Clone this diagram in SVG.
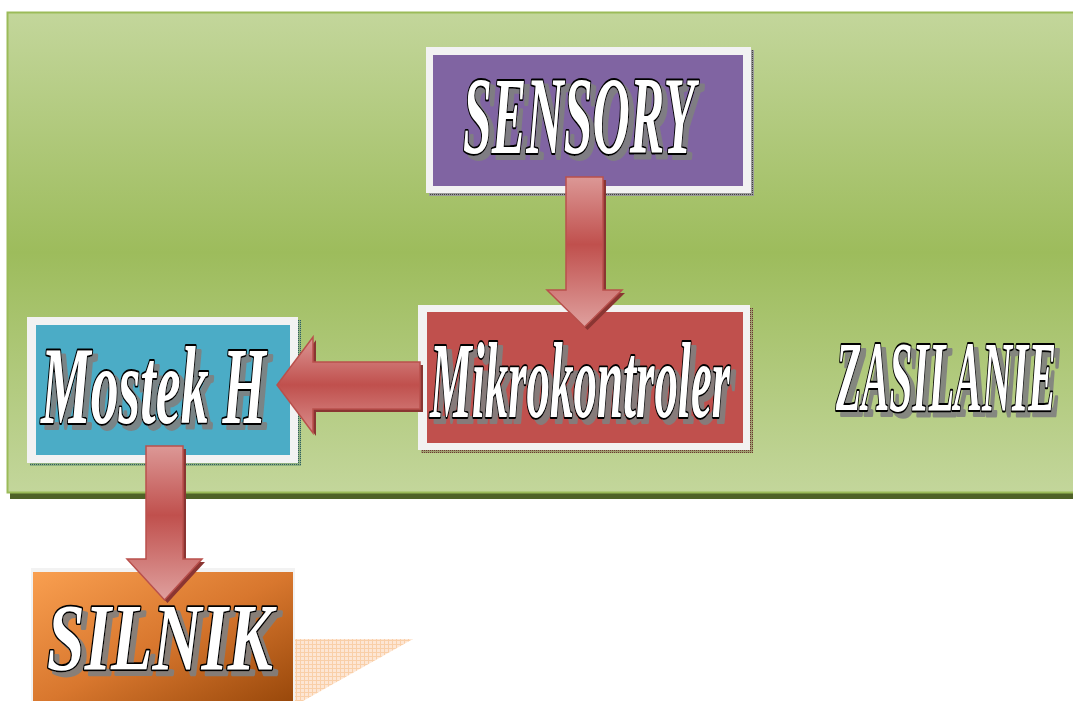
<svg xmlns="http://www.w3.org/2000/svg" width="1073" height="701" viewBox="0 0 1073 701">
  <defs>
    <style>
      .frame { fill: #f2f2f2; }
      .lbl { font-family: "Liberation Serif", "DejaVu Serif", serif; font-weight: bold; font-style: italic; fill: #ffffff; stroke: #000000; stroke-width: 3; paint-order: stroke; stroke-linejoin: round; vector-effect: non-scaling-stroke; }
      .shadowed { filter: url(#textShadow); }
      .arrow { stroke: #b9504c; stroke-width: 1.5; stroke-linejoin: miter; }
      .arrow-shadow { fill: #8a3532; }
    </style>
    <!-- grey drop shadow behind the outlined lettering -->
    <filter id="textShadow" x="-5%" y="-10%" width="115%" height="130%">
      <feFlood flood-color="#7f7f7f" flood-opacity="0.9" result="grey"/>
      <feComposite in="grey" in2="SourceAlpha" operator="in" result="shape"/>
      <feOffset in="shape" dx="5" dy="5" result="shadow"/>
      <feMerge>
        <feMergeNode in="shadow"/>
        <feMergeNode in="SourceGraphic"/>
      </feMerge>
    </filter>
    <linearGradient id="panelGrad" x1="0" y1="0" x2="0" y2="1">
      <stop offset="0" stop-color="#c3d69b"/>
      <stop offset="0.5" stop-color="#9dbc5c"/>
      <stop offset="1" stop-color="#c3d69b"/>
    </linearGradient>
    <linearGradient id="arrowV" x1="0" y1="0" x2="0" y2="1">
      <stop offset="0" stop-color="#dc9896"/>
      <stop offset="0.45" stop-color="#c0504d"/>
      <stop offset="1" stop-color="#dfa09e"/>
    </linearGradient>
    <linearGradient id="arrowH" x1="0" y1="0" x2="0" y2="1">
      <stop offset="0" stop-color="#dc9896"/>
      <stop offset="0.5" stop-color="#c0504d"/>
      <stop offset="1" stop-color="#d98e8c"/>
    </linearGradient>
    <linearGradient id="motorGrad" x1="0" y1="0" x2="1" y2="1">
      <stop offset="0" stop-color="#f99f50"/>
      <stop offset="0.5" stop-color="#d8772e"/>
      <stop offset="1" stop-color="#964609"/>
    </linearGradient>
    <pattern id="hatchGrey" width="2" height="2" patternUnits="userSpaceOnUse">
      <rect width="2" height="2" fill="#9a9a9a"/>
      <rect width="1" height="1" fill="#404040"/>
    </pattern>
    <pattern id="hatchRed" width="2" height="2" patternUnits="userSpaceOnUse">
      <rect width="2" height="2" fill="#a0a070"/>
      <rect width="1" height="1" fill="#6a3a30"/>
    </pattern>
    <pattern id="hatchTeal" width="2" height="2" patternUnits="userSpaceOnUse">
      <rect width="2" height="2" fill="#8fb080"/>
      <rect width="1" height="1" fill="#2f5e60"/>
    </pattern>
    <pattern id="peachGrid" width="4" height="4" patternUnits="userSpaceOnUse">
      <rect width="4" height="4" fill="#fde6d4"/>
      <path d="M0 0.5H4M0.5 0V4" stroke="#f9cfa8" stroke-width="1"/>
    </pattern>
  </defs>

  <rect width="1073" height="701" fill="#ffffff"/>

  <!-- power supply panel -->
  <g id="zasilanie">
    <rect x="10" y="19" width="1080" height="480" fill="#4f6228"/>
    <rect x="7.5" y="12.5" width="1080" height="480" fill="url(#panelGrad)" stroke="#9bbb59" stroke-width="2"/>
    <g class="shadowed">
      <text class="lbl" transform="translate(836 410) scale(1 2.38)" font-size="42" textLength="220" lengthAdjust="spacingAndGlyphs">ZASILANIE</text>
    </g>
  </g>

  <!-- motor block with faint backdrop -->
  <g id="silnik">
    <polygon points="295,639 413,639 303,701 295,701" fill="url(#peachGrid)"/>
    <rect x="31" y="568" width="264" height="140" class="frame"/>
    <rect x="33" y="572" width="260" height="136" fill="url(#motorGrad)"/>
    <g class="shadowed">
      <text class="lbl" transform="translate(47 670) scale(1 1.4)" font-size="68" textLength="226" lengthAdjust="spacingAndGlyphs">SILNIK</text>
    </g>
  </g>

  <g id="sensory">
    <rect x="429" y="50" width="325" height="146" fill="url(#hatchGrey)"/>
    <rect x="426" y="47" width="325" height="146" class="frame"/>
    <rect x="433" y="55" width="310" height="131" fill="#8064a2"/>
    <g class="shadowed">
      <text class="lbl" transform="translate(463 153) scale(1 2.14)" font-size="51.5" textLength="232" lengthAdjust="spacingAndGlyphs">SENSORY</text>
    </g>
  </g>

  <g id="mikrokontroler">
    <rect x="421" y="308" width="332" height="145" fill="url(#hatchRed)"/>
    <rect x="418" y="305" width="332" height="145" class="frame"/>
    <rect x="427" y="312" width="316" height="131" fill="#c0504d"/>
    <g class="shadowed">
      <text class="lbl" transform="translate(430 417) scale(1 2.3)" font-size="47" textLength="300" lengthAdjust="spacingAndGlyphs">Mikrokontroler</text>
    </g>
  </g>

  <g id="mostek-h">
    <rect x="30" y="320" width="271" height="146" fill="url(#hatchTeal)"/>
    <rect x="27" y="317" width="271" height="146" class="frame"/>
    <rect x="36" y="325" width="254" height="130" fill="#4bacc6"/>
    <g class="shadowed">
      <text class="lbl" transform="translate(41 423) scale(1 1.97)" font-size="56" textLength="225" lengthAdjust="spacingAndGlyphs">Mostek H</text>
    </g>
  </g>

  <!-- block arrows -->
  <g id="connectors">
    <path class="arrow-shadow" transform="translate(3,3)" d="M566 177H603V290H622L584.5 327L547 290H566Z"/>
    <path class="arrow" fill="url(#arrowV)" d="M566 177H603V290H622L584.5 327L547 290H566Z"/>

    <path class="arrow-shadow" transform="translate(3,3)" d="M420 362V409H313V433L277 385L313 337V362Z"/>
    <path class="arrow" fill="url(#arrowH)" d="M420 362V409H313V433L277 385L313 337V362Z"/>

    <path class="arrow-shadow" transform="translate(3,3)" d="M146 446H183V559H202L164.5 600L127 559H146Z"/>
    <path class="arrow" fill="url(#arrowV)" d="M146 446H183V559H202L164.5 600L127 559H146Z"/>
  </g>
</svg>
